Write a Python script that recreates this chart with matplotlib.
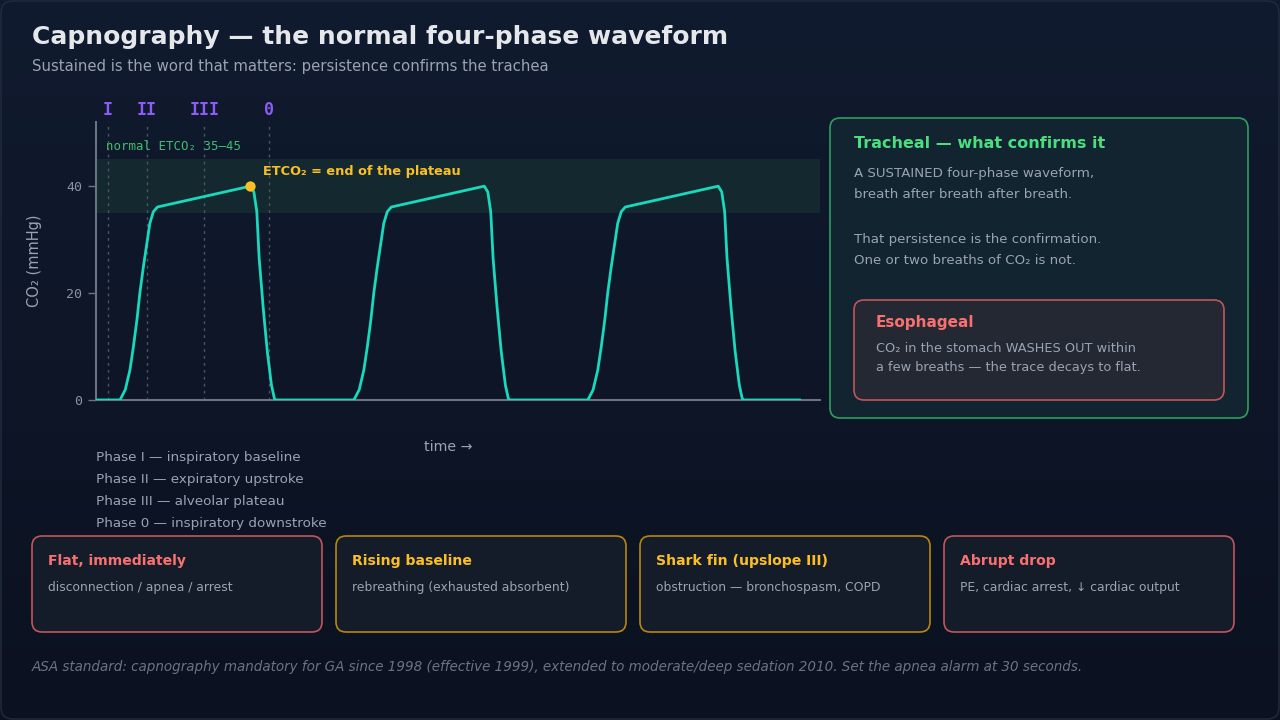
import numpy as np
import matplotlib
matplotlib.use("Agg")
import matplotlib.pyplot as plt
from matplotlib.patches import FancyBboxPatch
from matplotlib.colors import LinearSegmentedColormap

# ---------------- data ----------------
# one breath (time in s from breath start, CO2 in mmHg)
breath_t = [0.00, 0.41, 0.50, 0.58, 0.64, 0.70, 0.75, 0.81, 0.87, 0.92, 0.98, 1.05,
            2.64, 2.70, 2.75, 2.79, 2.86, 2.93, 3.00, 3.05, 3.07]
breath_co2 = [0, 0, 1.9, 5.6, 10, 15, 20, 24.9, 29.3, 33, 35.2, 36.1,
              40, 38.9, 35.2, 26.5, 17.1, 9.0, 2.8, 0.3, 0]
breath_starts = [0, 4, 8]
trace_end = 12.03
etco2_t, etco2_v = 2.64, 40
normal_band = (35, 45)
phase_names = ["I", "II", "III", "0"]
phase_times = [0.20, 0.87, 1.85, 2.96]
y_ticks = [0, 20, 40]
phase_lines = ["Phase I — inspiratory baseline",
               "Phase II — expiratory upstroke",
               "Phase III — alveolar plateau",
               "Phase 0 — inspiratory downstroke"]
card_titles = ["Flat, immediately", "Rising baseline",
               "Shark fin (upslope III)", "Abrupt drop"]
card_texts = ["disconnection / apnea / arrest",
              "rebreathing (exhausted absorbent)",
              "obstruction — bronchospasm, COPD",
              "PE, cardiac arrest, ↓ cardiac output"]
card_kinds = ["red", "yellow", "yellow", "red"]

# ---------------- style ----------------
BG_TOP = "#111b2f"
BG_BOT = "#0b1120"
GRAY = "#9aa3b2"
DIM = "#6b7280"
TEAL = "#19d9bd"
YEL = "#fbbf24"
RED = "#f87171"
GREEN = "#4ade80"
PURPLE = "#8b5cf6"

W, H = 1280, 720
fig = plt.figure(figsize=(12.8, 7.2), dpi=100)

# background gradient
bg = fig.add_axes([0, 0, 1, 1])
bg.set_xlim(0, W); bg.set_ylim(H, 0); bg.axis("off")
grad = np.linspace(0, 1, 256).reshape(-1, 1)
cm = LinearSegmentedColormap.from_list("bg", [BG_TOP, BG_BOT])
bg.imshow(grad, cmap=cm, extent=[0, W, H, 0], aspect="auto", zorder=0)
bg.add_patch(FancyBboxPatch((1, 1), W - 2, H - 2, boxstyle="round,pad=0,rounding_size=12",
                            fc="none", ec="#1e293b", lw=1.2, zorder=1))

# titles
bg.text(32, 37, "Capnography — the normal four-phase waveform", color="#e5e7eb",
        fontsize=18, fontweight="bold", va="center", ha="left", zorder=2)
bg.text(32, 67, "Sustained is the word that matters: persistence confirms the trachea",
        color=GRAY, fontsize=10.75, va="center", ha="left", zorder=2)

# phase list
for i, s in enumerate(phase_lines):
    bg.text(96, 457 + 22 * i, s, color=GRAY, fontsize=9.7, va="center", ha="left", zorder=2)
bg.text(448, 447, "time →", color=GRAY, fontsize=10.2, va="center", ha="center", zorder=2)

# right panel
bg.add_patch(FancyBboxPatch((830, 118), 418, 300, boxstyle="round,pad=0,rounding_size=10",
                            fc="#11242f", ec="#2f9e5e", lw=1.2, zorder=2))
bg.text(854, 143, "Tracheal — what confirms it", color=GREEN, fontsize=11.5,
        fontweight="bold", va="center", ha="left", zorder=3)
for y, s in [(173, "A SUSTAINED four-phase waveform,"),
             (195, "breath after breath after breath."),
             (239, "That persistence is the confirmation."),
             (261, "One or two breaths of CO₂ is not.")]:
    bg.text(854, y, s, color=GRAY, fontsize=9.6, va="center", ha="left", zorder=3)
bg.add_patch(FancyBboxPatch((854, 300), 370, 100, boxstyle="round,pad=0,rounding_size=10",
                            fc="#232833", ec="#c2555a", lw=1.2, zorder=3))
bg.text(876, 323, "Esophageal", color=RED, fontsize=11, fontweight="bold",
        va="center", ha="left", zorder=4)
bg.text(876, 348, "CO₂ in the stomach WASHES OUT within", color=GRAY, fontsize=9.25,
        va="center", ha="left", zorder=4)
bg.text(876, 368, "a few breaths — the trace decays to flat.", color=GRAY, fontsize=9.25,
        va="center", ha="left", zorder=4)

# bottom cards
for i, (t, s, k) in enumerate(zip(card_titles, card_texts, card_kinds)):
    x0 = 32 + i * 304
    ec = "#c2555a" if k == "red" else "#b8860b"
    tc = RED if k == "red" else YEL
    bg.add_patch(FancyBboxPatch((x0, 536), 290, 96, boxstyle="round,pad=0,rounding_size=10",
                                fc="#141b29", ec=ec, lw=1.2, zorder=2))
    bg.text(x0 + 16, 561, t, color=tc, fontsize=10.1, fontweight="bold",
            va="center", ha="left", zorder=3)
    bg.text(x0 + 16, 588, s, color=GRAY, fontsize=8.9, va="center", ha="left", zorder=3)

bg.text(32, 667, "ASA standard: capnography mandatory for GA since 1998 (effective 1999), "
        "extended to moderate/deep sedation 2010. Set the apnea alarm at 30 seconds.",
        color=DIM, fontsize=9.75, style="italic", va="center", ha="left", zorder=2)

# ---------------- waveform axes ----------------
ax = fig.add_axes([96 / W, 1 - 400 / H, (820 - 96) / W, (400 - 122) / H])
ax.set_facecolor("none")
ax.set_xlim(0, 12.38)
ax.set_ylim(0, 52)

t_all, v_all = [], []
for s0 in breath_starts:
    t_all += [s0 + t for t in breath_t]
    v_all += breath_co2
t_all.append(trace_end); v_all.append(0)

ax.axhspan(normal_band[0], normal_band[1], color="#14292f", zorder=1, lw=0)
for pt in phase_times:
    ax.axvline(pt, color="#4b5563", lw=1, ls=(0, (2, 3)), zorder=2)
ax.plot(t_all, v_all, color=TEAL, lw=2, zorder=4, solid_joinstyle="round")
ax.scatter([etco2_t], [etco2_v], s=55, color=YEL, zorder=5, lw=0)
ax.text(0.17, 47.5, "normal ETCO₂ 35–45", color="#3fbf6f", fontsize=8.9,
        family="DejaVu Sans Mono", va="center", ha="left", zorder=5)
ax.text(2.86, 42.8, "ETCO₂ = end of the plateau", color=YEL, fontsize=9.3,
        fontweight="bold", va="center", ha="left", zorder=5)
for name, pt in zip(phase_names, phase_times):
    ax.text(pt, 54.2, name, color=PURPLE, fontsize=12, fontweight="bold",
            family="DejaVu Sans Mono", va="center", ha="center", clip_on=False)

ax.set_xticks([])
ax.set_yticks(y_ticks)
ax.tick_params(axis="y", colors=DIM, labelcolor="#8b93a1", length=6, width=1, pad=4,
               labelsize=9.5)
for lab in ax.get_yticklabels():
    lab.set_family("DejaVu Sans Mono")
for sp in ["top", "right"]:
    ax.spines[sp].set_visible(False)
for sp in ["left", "bottom"]:
    ax.spines[sp].set_color("#6b7280")
    ax.spines[sp].set_linewidth(1.5)
ax.set_ylabel("CO₂ (mmHg)", color=GRAY, fontsize=10.5, labelpad=17)

fig.savefig("out.png", dpi=100, facecolor=BG_BOT)
